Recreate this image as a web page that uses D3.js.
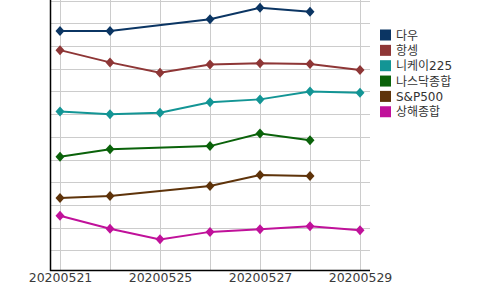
<!DOCTYPE html>
<html><head><meta charset="utf-8">
<script src="https://cdn.jsdelivr.net/npm/d3@7"></script>
<style>body{margin:0;background:#fff;} text{font-family:"DejaVu Sans","Noto Sans CJK KR",sans-serif;}</style>
</head><body><svg id="c" width="500" height="290"></svg>
<script>
const dates = ["20200521","20200522","20200525","20200526","20200527","20200528","20200529"];
const tickLabels = ["20200521","20200525","20200527","20200529"];
const seriesNames = ["다우","항셍","니케이225","나스닥종합","S&P500","상해종합"];
const colors = ["#0b3563","#8e3636","#139595","#0a620a","#5e330a","#c0119a"];
const dow    = [10.66,10.66,null,11.18,11.69,11.51,null];
const hangseng = [9.82,9.28,8.82,9.19,9.24,9.21,8.94];
const nikkei = [7.12,6.99,7.06,7.52,7.65,8.00,7.94];
const nasdaq = [5.12,5.45,null,5.59,6.15,5.85,null];
const sp500  = [3.30,3.39,null,3.83,4.32,4.27,null];
const shanghai = [2.52,1.95,1.48,1.81,1.93,2.06,1.88];
const yTicks = [1,2,3,4,5,6,7,8,9,10,11,12];
const allSeries = [dow,hangseng,nikkei,nasdaq,sp500,shanghai];

const svg = d3.select("#c");
const L=50,R=370,T=0,B=270;
const x = d3.scalePoint().domain(dates).range([60,360]);
const y = d3.scaleLinear().domain([0.13,12.03]).range([B,T]);

const g = svg.append("g");
g.selectAll(".hg").data(yTicks).enter().append("line")
 .attr("x1",L).attr("x2",R).attr("y1",d=>Math.round(y(d))+0.5).attr("y2",d=>Math.round(y(d))+0.5)
 .attr("stroke","#cccccc").attr("stroke-width",1);
g.selectAll(".vg").data(dates).enter().append("line")
 .attr("y1",T).attr("y2",B).attr("x1",d=>x(d)+0.5).attr("x2",d=>x(d)+0.5)
 .attr("stroke","#cccccc").attr("stroke-width",1);

const xAxis = d3.axisBottom(x).tickValues(tickLabels).tickSize(0).tickPadding(3);
const ax = svg.append("g").attr("transform",`translate(0,${B})`).call(xAxis);
ax.select(".domain").remove();
ax.selectAll("text").attr("font-size","12.5px").attr("fill","#3a3a3a").attr("font-family","DejaVu Sans, Noto Sans CJK KR, sans-serif");
svg.append("line").attr("x1",L).attr("x2",R).attr("y1",B+0.5).attr("y2",B+0.5).attr("stroke","#000").attr("stroke-width",1.5);
svg.append("line").attr("x1",L+0.5).attr("x2",L+0.5).attr("y1",T).attr("y2",B+1).attr("stroke","#000").attr("stroke-width",1.5);

const line = d3.line().x(d=>x(d.date)).y(d=>y(d.v));
allSeries.forEach((s,i)=>{
  const pts = s.map((v,j)=>({date:dates[j],v})).filter(d=>d.v!=null);
  svg.append("path").datum(pts).attr("d",line).attr("fill","none")
    .attr("stroke",colors[i]).attr("stroke-width",2);
  svg.selectAll(null).data(pts).enter().append("path")
    .attr("d","M0,-5L4.5,0L0,5L-4.5,0Z")
    .attr("transform",d=>`translate(${x(d.date)},${y(d.v)})`)
    .attr("fill",colors[i]);
});

const lg = svg.append("g");
seriesNames.forEach((n,i)=>{
  const cy = 35 + i*15.35;
  lg.append("rect").attr("x",380).attr("y",cy-5.5).attr("width",11).attr("height",11).attr("fill",colors[i]);
  lg.append("text").attr("x",396).attr("y",cy+4.5).attr("font-size","12px").attr("fill","#333").text(n);
});
</script></body></html>
